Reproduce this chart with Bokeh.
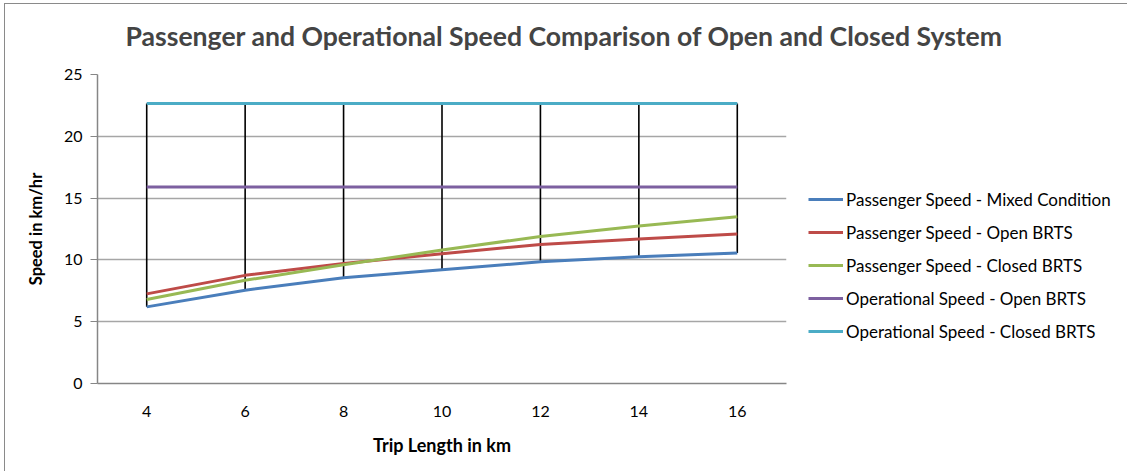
from bokeh.plotting import figure
from bokeh.models import ColumnDataSource, FactorRange, Range1d, Legend, LegendItem, FixedTicker, Title
from bokeh.embed import file_html
from bokeh.resources import INLINE
import numpy as np

trip_length = ["4", "6", "8", "10", "12", "14", "16"]
pass_mixed = [6.2, 7.55, 8.55, 9.2, 9.85, 10.25, 10.55]
pass_open = [7.25, 8.75, 9.7, 10.5, 11.25, 11.7, 12.1]
pass_closed = [6.8, 8.35, 9.6, 10.8, 11.9, 12.75, 13.5]
oper_open = [15.9, 15.9, 15.9, 15.9, 15.9, 15.9, 15.9]
oper_closed = [22.65, 22.65, 22.65, 22.65, 22.65, 22.65, 22.65]

series = [
    ("Passenger Speed - Mixed Condition", pass_mixed, "#4A7EBB"),
    ("Passenger Speed - Open BRTS", pass_open, "#BE4B48"),
    ("Passenger Speed - Closed BRTS", pass_closed, "#98B954"),
    ("Operational Speed - Open BRTS", oper_open, "#7D60A0"),
    ("Operational Speed - Closed BRTS", oper_closed, "#4BACC6"),
]
TITLE = "Passenger and Operational Speed Comparison of Open and Closed System"

FONT = "Lato"

p = figure(
    frame_width=689, frame_height=309,
    x_range=FactorRange(*trip_length, range_padding=0),
    y_range=Range1d(0, 25),
    output_backend="svg", toolbar_location=None,
    min_border_left=92, min_border_right=0, min_border_top=0, min_border_bottom=88,
)
p.styles = {"border-left": "1px solid #8a8a8a", "border-top": "1px solid #8a8a8a",
            "border-right": "1px solid #8a8a8a", "margin-left": "4px", "margin-top": "3px",
            "padding-top": "13px"}

# spacer between title and plot area, then the main title above it
p.add_layout(Title(text=" ", text_font_size="10px", standoff=10), "above")
p.add_layout(Title(text=TITLE, text_font=FONT, text_font_size="26.6px",
                   text_font_style="bold", align="left", offset=28, standoff=0), "above")

p.outline_line_color = None
p.xgrid.grid_line_color = None
p.ygrid.grid_line_color = "#a6a6a6"
p.ygrid.grid_line_width = 1.3

p.yaxis.ticker = FixedTicker(ticks=[0, 5, 10, 15, 20, 25])
for ax in (p.xaxis[0], p.yaxis[0]):
    ax.axis_line_color = "#868686"
    ax.axis_line_width = 1.5
    ax.major_tick_line_color = "#868686"
    ax.minor_tick_line_color = None
    ax.major_tick_in = 0
    ax.major_label_text_font = FONT
    ax.major_label_text_font_size = "16px"
    ax.major_label_text_color = "black"
    ax.axis_label_text_font = FONT
    ax.axis_label_text_font_style = "bold"
    ax.axis_label_text_color = "black"

p.yaxis.major_tick_out = 7
p.yaxis.major_label_standoff = 8
p.yaxis.axis_label = "Speed in km/hr"
p.yaxis.axis_label_text_font_size = "16.5px"
p.yaxis.axis_label_standoff = 15
p.xaxis.major_tick_out = 0
p.xaxis.major_label_standoff = 22
p.xaxis.axis_label = "Trip Length in km"
p.xaxis.axis_label_text_font_size = "18px"
p.xaxis.axis_label_standoff = 14

# high-low lines
arr = np.array([s[1] for s in series])
hl = ColumnDataSource(dict(x=trip_length, lo=arr.min(axis=0), hi=arr.max(axis=0)))
p.segment(x0="x", y0="lo", x1="x", y1="hi", source=hl, line_color="black", line_width=1.6)

items = []
for name, vals, color in series:
    src = ColumnDataSource(dict(x=trip_length, y=vals))
    r = p.line("x", "y", source=src, line_color=color, line_width=3)
    items.append(LegendItem(label=name, renderers=[r]))

legend = Legend(items=items, location=(22, 41))
legend.padding = 0
legend.margin = 0
legend.border_line_color = None
legend.background_fill_alpha = 0
legend.glyph_width = 35
legend.glyph_height = 22
legend.label_height = 22
legend.spacing = 11
legend.label_standoff = 3
legend.label_text_font = FONT
legend.label_text_font_size = "17px"
legend.label_text_color = "black"
p.add_layout(legend, "right")

open("out.html", "w").write(file_html(p, INLINE))
